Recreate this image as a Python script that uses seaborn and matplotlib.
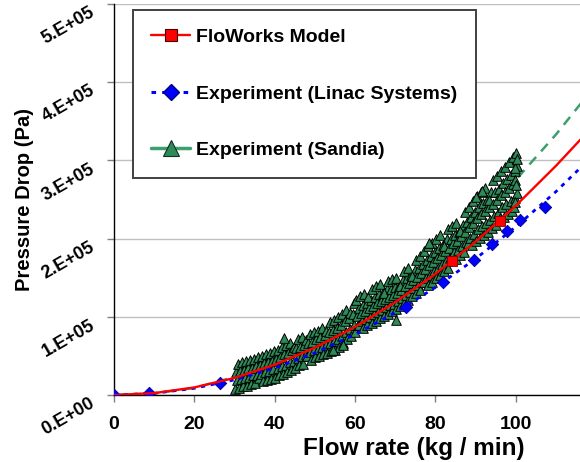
import numpy as np
import pandas as pd
import matplotlib
matplotlib.use("Agg")
import matplotlib.pyplot as plt
from matplotlib.lines import Line2D
import seaborn as sns

# ---------------- data (pressure drop in units of 1e5 Pa) ----------------
# FloWorks model points and its trend curve
model_flow = [84.1, 96.1]
model_dp = [1.71, 2.23]
model_fit_flow = [0, 10, 20, 30, 40, 50, 60, 70, 80, 90, 100, 110, 120]
model_fit_dp = [0, 0.024, 0.097, 0.218, 0.387, 0.605, 0.871, 1.186, 1.549, 1.96, 2.42, 2.93, 3.48]

# Linac Systems experiment and its trend curve
linac_flow = [0, 8.7, 26.5, 72.6, 81.8, 89.5, 94.2, 97.8, 101.1, 107.3]
linac_dp = [0, 0.02, 0.15, 1.12, 1.44, 1.73, 1.93, 2.10, 2.235, 2.40]
linac_fit_flow = [0, 10, 20, 30, 40, 50, 60, 70, 80, 90, 100, 110, 120]
linac_fit_dp = [0, 0.0215, 0.086, 0.194, 0.344, 0.538, 0.774, 1.054, 1.376, 1.742, 2.15, 2.60, 3.10]

# Sandia experiment trend curve
sandia_fit_flow = [0, 10, 20, 30, 40, 50, 60, 70, 80, 90, 100, 110, 120]
sandia_fit_dp = [0, 0.02, 0.09, 0.23, 0.43, 0.68, 0.98, 1.34, 1.75, 2.22, 2.75, 3.33, 3.97]

sandia_flow = [
    30.1, 30.7, 30.4, 30.85, 31.1, 31.7, 31.4, 31.85, 32.1, 32.7, 32.4, 32.85,
    33.1, 33.7, 33.4, 33.85, 34.1, 34.7, 34.4, 34.85, 35.1, 35.7, 35.4, 35.85,
    36.1, 36.7, 36.4, 36.85, 37.1, 37.7, 37.4, 37.85, 38.1, 38.7, 38.4, 38.85,
    39.1, 39.7, 39.4, 39.85, 40.1, 40.7, 40.4, 40.85, 41.1, 41.7, 41.4, 41.85,
    42.1, 42.7, 42.4, 42.85, 43.1, 43.7, 43.4, 43.85, 44.1, 44.7, 44.4, 44.85,
    45.1, 45.7, 45.4, 45.85, 46.1, 46.7, 46.4, 46.85, 47.1, 47.7, 47.4, 47.85,
    48.1, 48.7, 48.4, 48.85, 49.1, 49.7, 49.4, 49.85, 50.1, 50.7, 50.4, 50.85,
    51.1, 51.7, 51.4, 51.85, 52.1, 52.7, 52.4, 52.85, 53.1, 53.7, 53.4, 53.85,
    54.1, 54.7, 54.4, 54.85, 55.1, 55.7, 55.4, 55.85, 56.1, 56.7, 56.4, 56.85,
    57.1, 57.7, 57.4, 57.85, 58.1, 58.7, 58.4, 58.85, 59.1, 59.7, 59.4, 59.85,
    60.1, 60.7, 60.4, 60.9, 60.25, 61.1, 61.7, 61.4, 61.9, 61.25,
    62.1, 62.7, 62.4, 62.9, 62.25, 63.1, 63.7, 63.4, 63.9, 63.25,
    64.1, 64.7, 64.4, 64.9, 64.25, 65.1, 65.7, 65.4, 65.9, 65.25,
    66.1, 66.7, 66.4, 66.9, 66.25, 67.1, 67.7, 67.4, 67.9, 67.25,
    68.1, 68.7, 68.4, 68.9, 68.25, 69.1, 69.7, 69.4, 69.9, 69.25,
    70.1, 70.7, 70.4, 70.9, 70.25, 71.1, 71.7, 71.4, 71.9, 71.25,
    72.1, 72.7, 72.4, 72.9, 72.25, 73.1, 73.7, 73.4, 73.9, 73.25,
    74.1, 74.7, 74.4, 74.9, 74.25, 75.1, 75.7, 75.4, 75.9, 75.25,
    76.1, 76.7, 76.4, 76.9, 76.25, 77.1, 77.7, 77.4, 77.9, 77.25,
    78.1, 78.7, 78.4, 78.9, 78.25, 79.1, 79.7, 79.4, 79.9, 79.25,
    80.1, 80.7, 80.4, 80.9, 80.25, 81.1, 81.7, 81.4, 81.9, 81.25,
    82.1, 82.7, 82.4, 82.9, 82.25, 83.1, 83.7, 83.4, 83.9, 83.25,
    84.1, 84.7, 84.4, 84.9, 84.25, 85.1, 85.7, 85.4, 85.9, 85.25,
    86.1, 86.7, 86.4, 86.9, 86.25, 87.1, 87.7, 87.4, 87.9, 87.25,
    88.1, 88.7, 88.4, 88.9, 88.25, 89.1, 89.7, 89.4, 89.9, 89.25,
    90.1, 90.7, 90.4, 90.9, 90.25, 91.1, 91.7, 91.4, 91.9, 91.25,
    92.1, 92.7, 92.4, 92.9, 92.25, 93.1, 93.7, 93.4, 93.9, 93.25,
    94.1, 94.7, 94.4, 94.9, 94.25, 95.1, 95.7, 95.4, 95.9, 95.25,
    96.1, 96.7, 96.4, 96.9, 96.25, 97.1, 97.7, 97.4, 97.9, 97.25,
    98.1, 98.7, 98.4, 98.9, 98.25, 99.1, 99.7, 99.4, 99.9, 99.25,
    99.6, 100.2, 99.9, 100.4, 100.0,
    42.3, 70.2, 78.5, 91.6, 90.2, 99.8, 100.1, 99.7, 100.3, 54.5, 57.1,
]
sandia_dp = [
    0.08, 0.19, 0.29, 0.40, 0.09, 0.20, 0.31, 0.42, 0.11, 0.22, 0.32, 0.43,
    0.12, 0.23, 0.34, 0.45, 0.14, 0.25, 0.35, 0.46, 0.15, 0.26, 0.37, 0.48,
    0.22, 0.27, 0.39, 0.50, 0.18, 0.29, 0.41, 0.52, 0.19, 0.31, 0.42, 0.54,
    0.21, 0.33, 0.44, 0.56, 0.22, 0.34, 0.46, 0.58, 0.25, 0.37, 0.49, 0.61,
    0.27, 0.39, 0.52, 0.64, 0.30, 0.42, 0.54, 0.66, 0.32, 0.44, 0.57, 0.62,
    0.35, 0.47, 0.60, 0.72, 0.38, 0.50, 0.62, 0.74, 0.40, 0.52, 0.64, 0.70,
    0.50, 0.55, 0.66, 0.78, 0.45, 0.57, 0.68, 0.80, 0.48, 0.59, 0.71, 0.82,
    0.50, 0.62, 0.74, 0.86, 0.52, 0.64, 0.77, 0.82, 0.54, 0.67, 0.80, 0.93,
    0.56, 0.69, 0.83, 0.96, 0.58, 0.72, 0.86, 1.00, 0.62, 0.76, 0.90, 1.04,
    0.66, 0.80, 0.95, 1.09, 0.71, 0.85, 0.99, 1.05, 0.75, 0.89, 1.04, 1.18,
    0.80, 0.90, 1.01, 1.11, 1.22, 0.90, 0.94, 1.05, 1.15, 1.26,
    0.86, 0.97, 1.08, 1.18, 1.29, 0.89, 1.00, 1.11, 1.22, 1.25,
    0.92, 1.03, 1.14, 1.25, 1.36, 0.95, 1.06, 1.18, 1.29, 1.40,
    0.98, 1.09, 1.20, 1.31, 1.42, 1.01, 1.12, 1.23, 1.36, 1.30,
    1.04, 1.15, 1.25, 1.36, 1.46, 1.07, 1.17, 1.28, 1.38, 1.48,
    1.10, 1.20, 1.30, 1.40, 1.50, 1.14, 1.24, 1.34, 1.47, 1.40,
    1.18, 1.28, 1.39, 1.49, 1.59, 1.22, 1.32, 1.43, 1.53, 1.63,
    1.26, 1.37, 1.47, 1.60, 1.52, 1.30, 1.41, 1.51, 1.62, 1.72,
    1.34, 1.45, 1.56, 1.67, 1.78, 1.45, 1.49, 1.61, 1.72, 1.84,
    1.41, 1.53, 1.66, 1.78, 1.90, 1.45, 1.58, 1.70, 1.83, 1.95,
    1.50, 1.63, 1.75, 1.88, 2.00, 1.54, 1.67, 1.79, 1.92, 2.04,
    1.59, 1.71, 1.84, 2.00, 1.90, 1.63, 1.75, 1.88, 2.00, 2.12,
    1.72, 1.83, 1.94, 2.05, 2.16, 1.74, 1.86, 1.97, 2.09, 2.20,
    1.79, 1.91, 2.03, 2.18, 2.10, 1.83, 1.96, 2.09, 2.21, 2.34,
    1.95, 2.01, 2.15, 2.28, 2.41, 1.92, 2.06, 2.20, 2.34, 2.48,
    1.97, 2.12, 2.26, 2.41, 2.55, 2.01, 2.16, 2.31, 2.45, 2.60,
    2.05, 2.20, 2.35, 2.50, 2.65, 2.09, 2.24, 2.40, 2.60, 2.50,
    2.13, 2.29, 2.44, 2.60, 2.75, 2.17, 2.33, 2.49, 2.64, 2.80,
    2.26, 2.41, 2.56, 2.71, 2.86, 2.28, 2.44, 2.60, 2.76, 2.92,
    2.31, 2.48, 2.65, 2.81, 2.98, 2.35, 2.52, 2.70, 2.87, 3.04,
    2.40, 2.58, 2.75, 2.93, 3.10,
    0.73, 0.96, 1.94, 2.61, 2.53, 2.47, 2.68, 2.90, 3.02, 0.58, 0.64,
]

xticks = [0, 20, 40, 60, 80, 100]
yticks_e5 = [0, 1, 2, 3, 4, 5]
ytick_labels = ["0.E+00", "1.E+05", "2.E+05", "3.E+05", "4.E+05", "5.E+05"]

E5 = 1e5

# ----------------- VISUALIZATION -----------------
sns.set_theme(style="white")
plt.rcParams["font.family"] = ["Liberation Sans", "DejaVu Sans"]
plt.rcParams["font.weight"] = "bold"
plt.rcParams["text.color"] = "black"
plt.rcParams["axes.labelcolor"] = "black"
plt.rcParams["xtick.labelcolor"] = "black"
plt.rcParams["ytick.labelcolor"] = "black"

fig = plt.figure(figsize=(5.8, 4.62), dpi=100)
ax = fig.add_axes([114 / 580, 67 / 462, 466 / 580, 391 / 462])

green = "#2e8b57"
green_line = "#3d9e6e"

sandia = pd.DataFrame({"flow": sandia_flow, "dp": np.array(sandia_dp) * E5})
sandia_fit = pd.DataFrame({"flow": sandia_fit_flow, "dp": np.array(sandia_fit_dp) * E5})
linac = pd.DataFrame({"flow": linac_flow, "dp": np.array(linac_dp) * E5})
linac_fit = pd.DataFrame({"flow": linac_fit_flow, "dp": np.array(linac_fit_dp) * E5})
model = pd.DataFrame({"flow": model_flow, "dp": np.array(model_dp) * E5})
model_fit = pd.DataFrame({"flow": model_fit_flow, "dp": np.array(model_fit_dp) * E5})

# Sandia trend (dashed) under the cloud
sns.lineplot(data=sandia_fit, x="flow", y="dp", ax=ax, color=green_line,
             linewidth=1.8, linestyle=(0, (4, 3)), zorder=2)
sns.scatterplot(data=sandia, x="flow", y="dp", ax=ax, marker="^", s=48,
                color=green, edgecolor="black", linewidth=0.7, zorder=3)

# Linac (dotted trend + diamonds)
sns.lineplot(data=linac_fit, x="flow", y="dp", ax=ax, color="blue",
             linewidth=2, linestyle=(0, (1.5, 2)), zorder=4)
sns.scatterplot(data=linac, x="flow", y="dp", ax=ax, marker="D", s=40,
                color="blue", edgecolor="#000080", linewidth=0.6, zorder=5)

# FloWorks model
sns.lineplot(data=model_fit, x="flow", y="dp", ax=ax, color="red",
             linewidth=1.7, zorder=6)
sns.scatterplot(data=model, x="flow", y="dp", ax=ax, marker="s", s=45,
                color="red", edgecolor="#800000", linewidth=0.6, zorder=7)

ax.set_xlim(0, 116)
ax.set_ylim(0, 5 * E5)
ax.set_xticks(xticks)
ax.set_xticklabels([str(v) for v in xticks], fontsize=14, fontweight="bold")
ax.set_yticks([v * E5 for v in yticks_e5])
ax.set_yticklabels(ytick_labels, fontsize=13, fontweight="bold",
                   rotation=30, ha="right", va="top", rotation_mode="anchor")

ax.tick_params(axis="both", which="major", direction="out", length=5,
               width=1, color="#808080", bottom=True, left=True)
ax.tick_params(axis="x", pad=10)
ax.tick_params(axis="y", pad=13)

ax.grid(axis="y", color="#c0c0c0", linewidth=1)
ax.set_axisbelow(True)
for side in ["top", "right"]:
    ax.spines[side].set_visible(False)
for side in ["left", "bottom"]:
    ax.spines[side].set_color("black")
    ax.spines[side].set_linewidth(1)

ax.set_xlabel("Flow rate (kg / min)", fontsize=17.5, fontweight="bold")
ax.xaxis.set_label_coords((414 - 114) / 466, (395 - 448) / 391)
ax.xaxis.label.set_va("center")
ax.set_ylabel("Pressure Drop (Pa)", fontsize=14.5, fontweight="bold")
ax.yaxis.set_label_coords((25 - 114) / 466, 0.5)
ax.yaxis.label.set_va("center")

handles = [
    Line2D([], [], color="red", linewidth=1.7, marker="s", markersize=9,
           markerfacecolor="red", markeredgecolor="#400000", markeredgewidth=0.8),
    Line2D([], [], color="blue", linewidth=2.2, linestyle=(0, (1.5, 2)), marker="D",
           markersize=8, markerfacecolor="blue", markeredgecolor="#000080"),
    Line2D([], [], color=green_line, linewidth=2.5, marker="^", markersize=11,
           markerfacecolor=green, markeredgecolor="#103020", markeredgewidth=0.8),
]
labels = ["FloWorks Model", "Experiment (Linac Systems)", "Experiment (Sandia)"]
leg = ax.legend(handles, labels, loc="upper left",
                bbox_to_anchor=((133 - 114) / 466, (395 - 10) / 391),
                borderaxespad=0, prop={"size": 14, "weight": "bold"},
                handlelength=2.0, handletextpad=0.3, borderpad=0.95,
                labelspacing=2.0, fancybox=False, framealpha=1)
leg.get_frame().set_edgecolor("#404040")
leg.get_frame().set_linewidth(1.4)
leg.set_zorder(10)

fig.savefig("out.png", dpi=100)
